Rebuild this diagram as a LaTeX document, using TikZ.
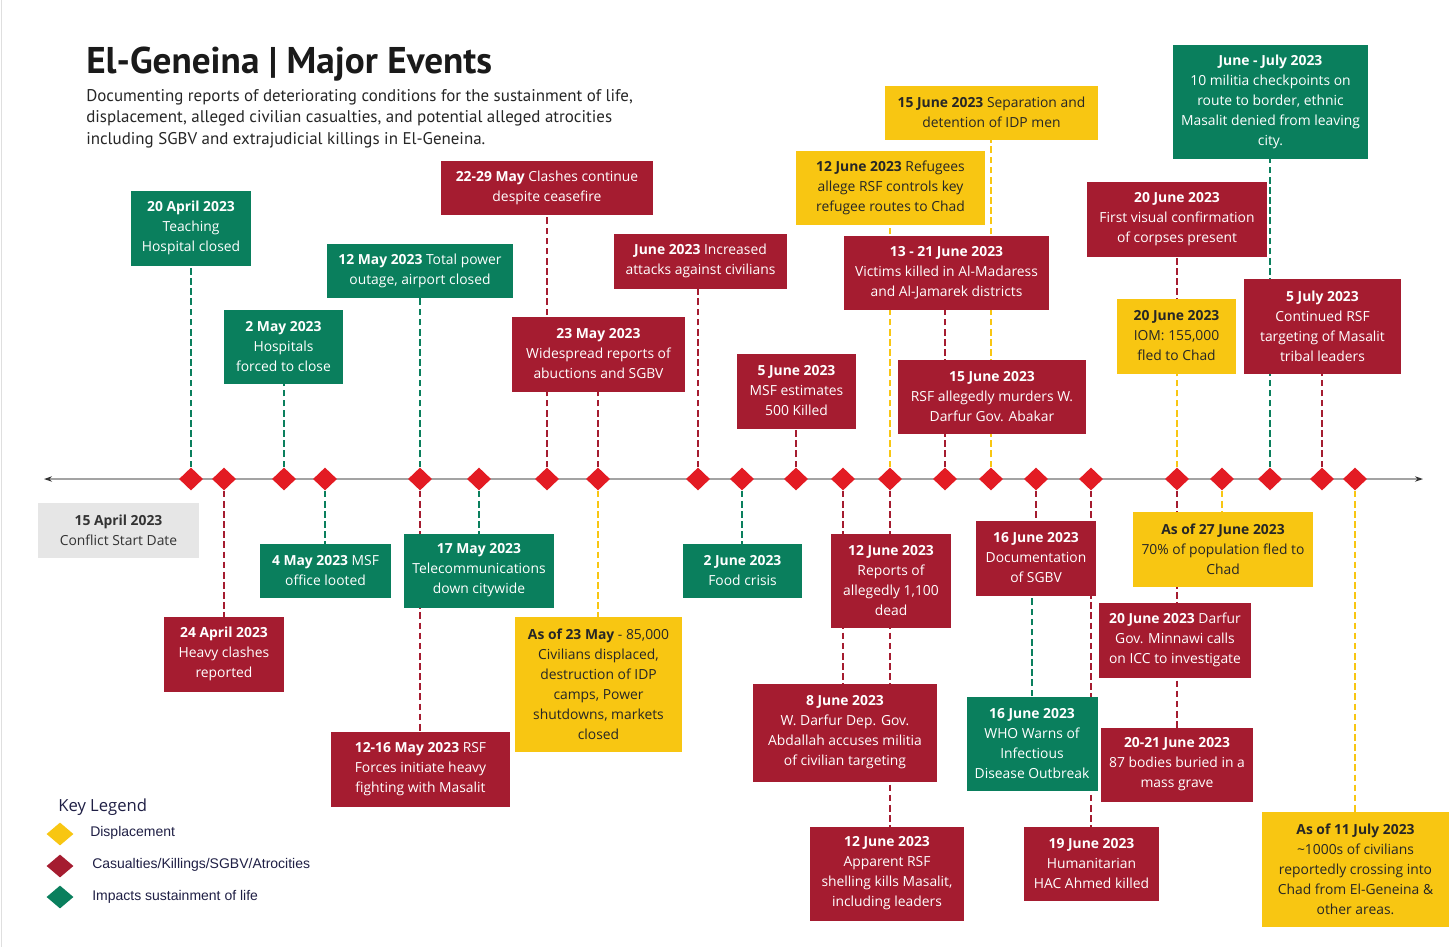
\documentclass[tikz,border=0pt]{standalone}
\usepackage{fontspec}
\setmainfont{Open Sans}
\newfontfamily\headfont{PT Sans}
\newfontfamily\keyfont{Liberation Sans}
\usetikzlibrary{shapes.geometric,arrows.meta,backgrounds}

\definecolor{lifegreen}{HTML}{0A7F5D}
\definecolor{killred}{HTML}{A51C30}
\definecolor{displyellow}{HTML}{F8C612}
\definecolor{dotred}{HTML}{E31B23}
\definecolor{startgray}{HTML}{E6E6E6}
\definecolor{axisgray}{HTML}{A3A3A3}
\definecolor{tipdark}{HTML}{333333}
\definecolor{inkdark}{HTML}{262626}
\definecolor{titleink}{HTML}{1A1A1A}
\definecolor{legendnavy}{HTML}{1F1F45}

\tikzset{
    evbox/.style={rectangle, inner sep=0pt, align=center,
        font=\fontsize{10.4}{15}\selectfont, text=white},
    boxsize/.style 2 args={minimum width=#1*0.75pt, minimum height=#2*0.75pt},
    lifebox/.style={evbox, fill=lifegreen},
    killbox/.style={evbox, fill=killred},
    displbox/.style={evbox, fill=displyellow, text=inkdark},
    startbox/.style={evbox, fill=startgray, text=tipdark},
    daydiamond/.style={diamond, fill=dotred, inner sep=0pt,
        minimum width=24*0.75pt, minimum height=23*0.75pt},
    keydiamond/.style={diamond, inner sep=0pt,
        minimum width=27*0.75pt, minimum height=23*0.75pt},
    evlink/.style={line width=1.2pt, dash pattern=on 5pt off 2.6pt},
    lifelink/.style={evlink, lifegreen},
    killlink/.style={evlink, killred},
    displlink/.style={evlink, displyellow},
    axisline/.style={axisgray, line width=1.6pt,
        {Stealth[length=6pt,width=4pt,color=tipdark]}-{Stealth[length=6pt,width=4pt,color=tipdark]}},
    keytext/.style={anchor=west, inner sep=0pt, text=legendnavy,
        font=\keyfont\fontsize{10.5}{12}\selectfont}
}

\begin{document}
\begin{tikzpicture}[x=0.75pt, y=-0.75pt]

    \useasboundingbox (0,0) rectangle (1456,947);

    \node[anchor=base west, inner sep=0pt, text=titleink,
        font=\headfont\bfseries\fontsize{27.9}{33}\selectfont
    ] (title) at (86,73) {El-Geneina | Major Events};
    \node[anchor=north west, inner sep=0pt, align=left, text=inkdark,
        font=\headfont\fontsize{12.7}{16.2}\selectfont
    ] (subtitle) at (86,89) {Documenting reports of deteriorating conditions for the sustainment of life,\\
        displacement, alleged civilian casualties, and potential alleged atrocities\\
        including SGBV and extrajudicial killings in El-Geneina.};

    \coordinate (tlstart) at (44,479);
    \coordinate (tlend) at (1423,479);
    \foreach \dx in {191,224,284,325,420,479,547,598,698,742,796,843,890,945,991,1036,1091,1177,1222,1270,1322,1355}
        \node[daydiamond] (d\dx) at (\dx,479) {};

    \node[startbox, boxsize={161}{55}] (start) at (118.5,530) {\textbf{15 April 2023}\\Conflict Start Date};
    \node[lifebox, boxsize={120}{75}] (apr20) at (191,228) {\textbf{20 April 2023}\\Teaching\\Hospital closed};
    \node[killbox, boxsize={120}{75}] (apr24) at (224,654) {\textbf{24 April 2023}\\Heavy clashes\\reported};
    \node[lifebox, boxsize={119}{74}] (may2) at (283.5,346.5) {\textbf{2 May 2023}\\Hospitals\\forced to close};
    \node[lifebox, boxsize={131}{54}] (may4) at (325.5,570.5) {\textbf{4 May 2023} MSF\\office looted};
    \node[lifebox, boxsize={186}{54}] (may12) at (420,270.5) {\textbf{12 May 2023} Total power\\outage, airport closed};
    \node[killbox, boxsize={179}{75}] (may1216) at (420.5,769) {\textbf{12-16 May 2023} RSF\\Forces initiate heavy\\fighting with Masalit};
    \node[lifebox, boxsize={150}{74}] (may17) at (479,570.5) {\textbf{17 May 2023}\\Telecommunications\\down citywide};
    \node[killbox, boxsize={212}{54}] (may2229) at (547,187.5) {\textbf{22-29 May} Clashes continue\\despite ceasefire};
    \node[killbox, boxsize={173}{75}] (may23) at (598.5,354) {\textbf{23 May 2023}\\Widespread reports of\\abuctions and SGBV};
    \node[displbox, boxsize={167}{135}] (asof23may) at (598.5,684) {\textbf{As of 23 May} - 85,000\\Civilians displaced,\\destruction of IDP\\camps, Power\\shutdowns, markets\\closed};
    \node[killbox, boxsize={173}{55}] (june) at (700.5,261) {\textbf{June 2023} Increased\\attacks against civilians};
    \node[lifebox, boxsize={119}{54}] (jun2) at (742.5,570.5) {\textbf{2 June 2023}\\Food crisis};
    \node[killbox, boxsize={119}{75}] (jun5) at (796.5,391) {\textbf{5 June 2023}\\MSF estimates\\500 Killed};
    \node[killbox, boxsize={184}{98}] (jun8) at (845,732.5) {\textbf{8 June 2023}\\W. Darfur Dep. Gov.\\Abdallah accuses militia\\of civilian targeting};
    \node[displbox, boxsize={189}{74}] (jun12ref) at (890.5,187.5) {\textbf{12 June 2023} Refugees\\allege RSF controls key\\refugee routes to Chad};
    \node[killbox, boxsize={120}{94}] (jun12dead) at (891,580.5) {\textbf{12 June 2023}\\Reports of\\allegedly 1,100\\dead};
    \node[killbox, boxsize={154}{94}] (jun12shell) at (887,873.5) {\textbf{12 June 2023}\\Apparent RSF\\shelling kills Masalit,\\including leaders};
    \node[killbox, boxsize={205}{74}] (jun1321) at (946.5,272.5) {\textbf{13 - 21 June 2023}\\Victims killed in Al-Madaress\\and Al-Jamarek districts};
    \node[displbox, boxsize={213}{54}] (jun15sep) at (991.5,112.5) {\textbf{15 June 2023} Separation and\\detention of IDP men};
    \node[killbox, boxsize={188}{74}] (jun15gov) at (992,396.5) {\textbf{15 June 2023}\\RSF allegedly murders W.\\Darfur Gov. Abakar};
    \node[killbox, boxsize={120}{75}] (jun16doc) at (1036,558) {\textbf{16 June 2023}\\Documentation\\of SGBV};
    \node[lifebox, boxsize={131}{94}] (jun16who) at (1032,743.5) {\textbf{16 June 2023}\\WHO Warns of\\Infectious\\Disease Outbreak};
    \node[killbox, boxsize={135}{74}] (jun19) at (1091.5,863.5) {\textbf{19 June 2023}\\Humanitarian\\HAC Ahmed killed};
    \node[killbox, boxsize={180}{75}] (jun20vis) at (1177,219) {\textbf{20 June 2023}\\First visual confirmation\\of corpses present};
    \node[displbox, boxsize={119}{75}] (jun20iom) at (1176.5,336) {\textbf{20 June 2023}\\IOM: 155,000\\fled to Chad};
    \node[killbox, boxsize={152}{75}] (jun20icc) at (1175,640) {\textbf{20 June 2023} Darfur\\Gov. Minnawi calls\\on ICC to investigate};
    \node[killbox, boxsize={152}{74}] (jun2021) at (1177,764.5) {\textbf{20-21 June 2023}\\87 bodies buried in a\\mass grave};
    \node[displbox, boxsize={180}{75}] (jun27) at (1223,549) {\textbf{As of 27 June 2023}\\70\% of population fled to\\Chad};
    \node[lifebox, boxsize={195}{114}] (junjul) at (1270.5,101.5) {\textbf{June - July 2023}\\10 militia checkpoints on\\route to border, ethnic\\Masalit denied from leaving\\city.};
    \node[killbox, boxsize={157}{95}] (jul5) at (1322.5,326) {\textbf{5 July 2023}\\Continued RSF\\targeting of Masalit\\tribal leaders};
    \node[displbox, boxsize={187}{115}] (jul11) at (1355.5,869) {\textbf{As of 11 July 2023}\\\textasciitilde1000s of civilians\\reportedly crossing into\\Chad from El-Geneina \&\\other areas.};

    \node[anchor=west, inner sep=0pt, text=legendnavy,
        font=\fontsize{12.5}{15}\selectfont
    ] (keyhead) at (58,807) {Key Legend};
    \node[keydiamond, fill=displyellow] (keydispl) at (60,834) {};
    \node[keydiamond, fill=killred] (keykill) at (60,866) {};
    \node[keydiamond, fill=lifegreen] (keylife) at (60,897) {};
    \node[keytext] (keydispltext) at (90,833) {Displacement};
    \node[keytext] (keykilltext) at (92,865) {Casualties/Killings/SGBV/Atrocities};
    \node[keytext] (keylifetext) at (92,897) {Impacts sustainment of life};

    \begin{scope}[on background layer]
        \fill[white] (0,0) rectangle (1456,947);
        \draw[gray!25, line width=1pt] (1.5,0) -- (1.5,947);
        \draw[axisline] (tlstart) -- (tlend);

        \foreach \dx/\bx in {191/apr20,284/may2,420/may12,325/may4,479/may17,742/jun2,1270/junjul}
            \draw[lifelink] (d\dx) -- (d\dx |- \bx);
        \draw[lifelink] (jun16who) -- (jun16who |- jun16doc);

        \foreach \dx/\bx in {224/apr24,420/may1216,547/may2229,598/may23,698/june,796/jun5,843/jun8,890/jun12dead,890/jun12shell,945/jun1321,991/jun15gov,1036/jun16doc,1091/jun19,1177/jun20vis,1177/jun20icc,1322/jul5}
            \draw[killlink] (d\dx) -- (d\dx |- \bx);
        \draw[killlink] (d1177 |- jun20icc) -- (d1177 |- jun2021);

        \foreach \dx/\bx in {598/asof23may,890/jun12ref,991/jun15sep,1177/jun20iom,1222/jun27,1355/jul11}
            \draw[displlink] (d\dx) -- (d\dx |- \bx);
    \end{scope}

\end{tikzpicture}
\end{document}
